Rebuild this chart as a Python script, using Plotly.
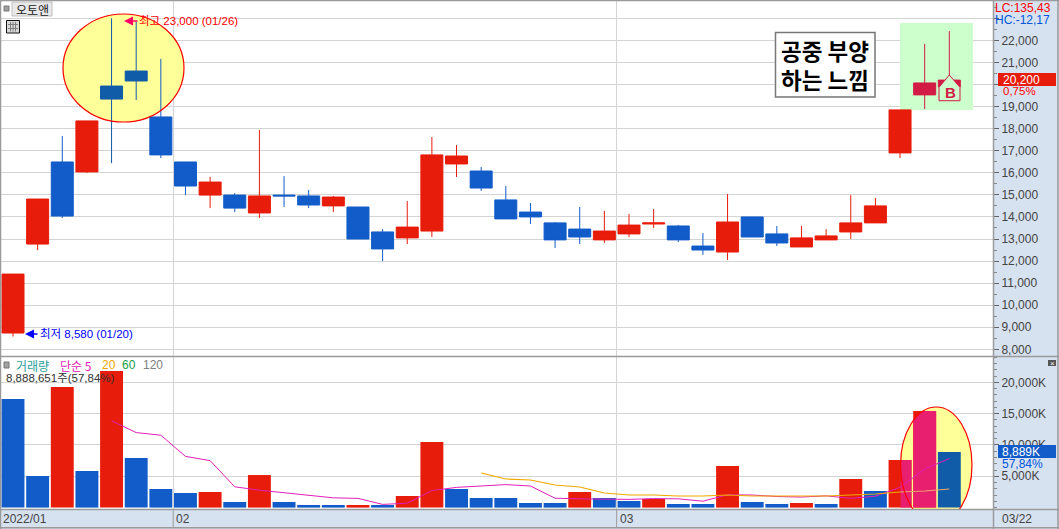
import numpy as np
import plotly.graph_objects as go

W, H = 1059, 529

# ---------- data ----------
opens = [8740, 12770, 16490, 16040, 19930, 20610, 18530, 16490, 14990, 14990, 14180, 14990, 14950,
         14500, 14450, 13320, 13050, 13360, 16400, 16080, 14770, 14220, 13730, 13450, 12960, 13230,
         13680, 13590, 12680, 12410, 14000, 13230, 12640, 12960, 13320, 13730, 16900, 19530, 19890]
closes = [11410, 14810, 14040, 18350, 19340, 20160, 16810, 15400, 15580, 14400, 14950, 14950, 14540,
          14900, 13000, 12550, 13540, 16810, 16760, 15310, 13910, 14000, 12960, 13090, 13360, 13630,
          13730, 12960, 12500, 13770, 13090, 12820, 13050, 13140, 13730, 14500, 18850, 20070, 20200]
highs = [11410, 14810, 17670, 18350, 23000, 22830, 21160, 16490, 15810, 15080, 17940, 15850, 15220,
         14950, 14450, 13450, 14720, 17620, 17260, 16260, 15400, 14630, 13770, 14450, 14270, 14130,
         14360, 13630, 13270, 15040, 14000, 13590, 13590, 13450, 14990, 14860, 18850, 21840, 22420]
lows = [8580, 12500, 13950, 15990, 16440, 19300, 16670, 14990, 14400, 14220, 13950, 14450, 14400,
        14220, 13000, 12000, 12770, 13090, 15810, 15180, 13910, 13680, 12590, 12770, 12820, 13090,
        13500, 12860, 12280, 12050, 13090, 12680, 12640, 12960, 13000, 13730, 16670, 18890, 19600]
volumes = [17340, 5050, 19260, 5850, 21810, 7920, 2970, 2330, 2490, 890, 5200, 890, 415,
           415, 415, 415, 1850, 10480, 2970, 1530, 1530, 735, 735, 2490, 1530, 1050,
           1370, 575, 575, 6640, 890, 575, 735, 575, 4570, 2650, 7600, 15430, 8889]
volume_up = [0, 0, 1, 0, 1, 0, 0, 0, 1, 0, 1, 0, 0,
             0, 1, 0, 1, 1, 0, 0, 0, 0, 0, 1, 0, 0,
             1, 0, 0, 1, 0, 0, 1, 0, 1, 0, 1, 1, 0]
ma5 = [13860, 11980, 11560, 8180, 7500, 3320, 2780, 2360, 1980, 1560, 1470, 510, 700, 2720, 3230,
       3450, 3670, 3450, 1500, 1400, 1400, 1310, 1440, 1400, 1020, 2040, 2010, 1770, 1680, 1880,
       1470, 1820, 3230, 6160, 7830]
ma20 = [5530, 4570, 4410, 3610, 3290, 2330, 2010, 2010, 1850, 1850, 2010, 1850, 1850, 1850, 1850,
        2010, 2170, 2490, 2650, 2970]
MA5_START, MA20_START = 4, 19
price_ticks = list(range(8000, 24000, 1000))
volume_ticks = [5000, 10000, 15000, 20000]
month_lines = [6.5, 24.5]

RED, BLUE, CRIMSON, DARKBLUE, PINK = "#e81c0a", "#125cc9", "#d21b45", "#105ca9", "#e81e6e"
PANEL, BORDER, GRID, TXT = "#d7e2f0", "#9a9a9a", "#d4d4d4", "#444444"
YELLOW, GREEN = "#ffff99", "#ccffcc"
FONT = "Liberation Sans, Noto Sans CJK KR, sans-serif"
KR = "Noto Sans CJK KR, sans-serif"

n = len(opens)
idx = np.arange(n)
fx = lambda px: px / W
fy = lambda py: 1 - py / H
ix = lambda px: (px - 13) / 24.64
pv = lambda py: 23829 - 45.31 * py


def candle(mask, up, down):
    m = np.array(mask)
    return go.Candlestick(
        x=idx[m], open=np.array(opens)[m], high=np.array(highs)[m], low=np.array(lows)[m],
        close=np.array(closes)[m], xaxis="x", yaxis="y", hoverinfo="skip",
        increasing=dict(line=dict(color=up, width=1), fillcolor=up),
        decreasing=dict(line=dict(color=down, width=1), fillcolor=down),
        showlegend=False)


fig = go.Figure()
in_oval = [i in (4, 5) for i in range(n)]
in_box = [i in (37, 38) for i in range(n)]
plain = [not (a or b) for a, b in zip(in_oval, in_box)]
fig.add_trace(candle(plain, RED, BLUE))
fig.add_trace(candle(in_oval, RED, DARKBLUE))
fig.add_trace(candle(in_box, CRIMSON, CRIMSON))

bar_colors = [RED if u else BLUE for u in volume_up]
bar_colors[38] = DARKBLUE
BAR_W = 0.93
fig.add_trace(go.Bar(x=idx, y=volumes, width=BAR_W, marker=dict(color=bar_colors, line_width=0),
                     xaxis="x2", yaxis="y2", hoverinfo="skip", showlegend=False))

# volume oval and the parts of the red bars that it tints
OV_X0, OV_X1, OV_Y0, OV_Y1 = 36.02, 38.92, -2475, 16066
ocx, orx = (OV_X0 + OV_X1) / 2, (OV_X1 - OV_X0) / 2
ocy, ory = (OV_Y0 + OV_Y1) / 2, (OV_Y1 - OV_Y0) / 2
for b in (36, 37):
    xs = np.linspace(max(b - BAR_W / 2, OV_X0), b + BAR_W / 2, 40)
    top = np.minimum(ocy + ory * np.sqrt(np.clip(1 - ((xs - ocx) / orx) ** 2, 0, 1)), volumes[b])
    fig.add_trace(go.Scatter(x=np.r_[xs, xs[-1], xs[0]], y=np.r_[top, 0, 0], mode="lines", fill="toself",
                             fillcolor=PINK, line=dict(width=0), xaxis="x2", yaxis="y2",
                             hoverinfo="skip", showlegend=False))

fig.add_trace(go.Scatter(x=idx[MA5_START:], y=ma5, mode="lines", line=dict(color="#e020b8", width=1),
                         xaxis="x2", yaxis="y2", hoverinfo="skip", showlegend=False))
split = 36 - MA20_START
fig.add_trace(go.Scatter(x=idx[MA20_START:36 + 1], y=ma20[:split + 1], mode="lines",
                         line=dict(color="#f0a800", width=1.2), xaxis="x2", yaxis="y2",
                         hoverinfo="skip", showlegend=False))
fig.add_trace(go.Scatter(x=idx[36:], y=ma20[split:], mode="lines",
                         line=dict(color="#e8a96e", width=1.2), xaxis="x2", yaxis="y2",
                         hoverinfo="skip", showlegend=False))

shapes = []


def rect_px(x0, y0, x1, y1, fill=None, line=None, lw=1, layer="above"):
    shapes.append(dict(type="rect", xref="paper", yref="paper", x0=fx(x0), x1=fx(x1), y0=fy(y1), y1=fy(y0),
                       fillcolor=fill or "rgba(0,0,0,0)", line=dict(color=line or "rgba(0,0,0,0)", width=lw if line else 0),
                       layer=layer))


def line_px(x0, y0, x1, y1, color=BORDER, lw=1.5):
    shapes.append(dict(type="line", xref="paper", yref="paper", x0=fx(x0), x1=fx(x1), y0=fy(y0), y1=fy(y1),
                       line=dict(color=color, width=lw), layer="above"))


# highlight regions
main_oval = dict(type="circle", xref="x", yref="y", x0=ix(63), x1=ix(184), y0=pv(122), y1=pv(14))
vol_oval = dict(type="circle", xref="x2", yref="y2", x0=OV_X0, x1=OV_X1, y0=OV_Y0, y1=OV_Y1)
for o in (main_oval, vol_oval):
    shapes.append({**o, "fillcolor": YELLOW, "line": dict(width=0), "layer": "between"})
    shapes.append({**o, "fillcolor": "rgba(0,0,0,0)", "line": dict(color="#ff0000", width=1.2), "layer": "above"})
shapes.append(dict(type="rect", xref="x", yref="y", x0=ix(900), x1=ix(973), y0=pv(110), y1=pv(23),
                   fillcolor=GREEN, line=dict(width=0), layer="between"))

# buy marker
pts = [(949.3, 75), (960, 87.3), (960, 100.7), (939, 100.7), (939, 87.3)]
shapes.append(dict(type="path", xref="x", yref="y", layer="above",
                   path="M " + " L ".join(f"{ix(a):.3f},{pv(b):.0f}" for a, b in pts) + " Z",
                   fillcolor=GREEN, line=dict(color=CRIMSON, width=1)))

# frames
line_px(0, 0.5, W, 0.5)
line_px(0.5, 0, 0.5, H)
line_px(993.5, 0, 993.5, H)
line_px(0, 356.5, W, 356.5)
line_px(0, 509.5, W, 509.5)
line_px(0, 527.8, W, 527.8)
line_px(1058, 0, 1058, H)
for m in month_lines:
    px = 13 + 24.64 * m
    line_px(px, 510, px, 527, BORDER, 1)

# little widgets
rect_px(4, 6, 9, 11, "#a0a0a0", "#777777")
rect_px(12, 2, 52, 16, "#e8e8e8", "#c0c0c0")
rect_px(6.5, 20.5, 19.5, 33, "#d8d8d8", "#111111")
for gy in (24.5, 28.5):
    line_px(8, gy, 18, gy, "#808080", 1)
for gx in (10.5, 13, 15.5):
    line_px(gx, 22, gx, 31.5, "#808080", 1)
rect_px(4, 362, 9, 368, "#a0a0a0", "#777777")
rect_px(1048, 360, 1056, 366, "#555555")
# caption box
rect_px(775.5, 32.5, 875, 97, "#ffffff", "#777777", 1.5)
# value tags
rect_px(998, 73, 1056, 86, RED)
rect_px(998, 445, 1056, 458, BLUE)

ann = []


def text_px(x, y, s, color=TXT, size=12, font=FONT, anchor="left", **kw):
    ann.append(dict(xref="paper", yref="paper", x=fx(x), y=fy(y), text=s, showarrow=False, xanchor=anchor,
                    yanchor="middle", font=dict(color=color, size=size, family=font), borderpad=0, **kw))


text_px(32, 9, "오토앤", "#222222", 12, KR, "center")
for x_tip, y_tip, x_tail, col in [(124, 21, 139, "#ff0066"), (25, 334, 39, "#0000ff")]:
    ann.append(dict(xref="paper", yref="paper", x=fx(x_tip), y=fy(y_tip), ax=x_tail - x_tip, ay=0, text="",
                    showarrow=True, arrowhead=2, arrowsize=1.2, arrowwidth=1.5, arrowcolor=col))
text_px(138, 21, "최고 23,000 (01/26)", "#ff0000", 11.5)
text_px(39, 334, "최저 8,580 (01/20)", "#0000ff", 11.5)

text_px(825, 65, "<b>공중 부양<br>하는 느낌</b>", "#000000", 22.5, KR, "center")
text_px(950, 92.5, "<b>B</b>", CRIMSON, 15, FONT, "center")

text_px(994, 8, "LC:135,43", "#ff0000", 12)
text_px(994, 20, "HC:-12,17", "#0055dd", 12)
text_px(1002, 79.5, "20,200", "#ffffff", 12)
text_px(1002, 91.5, "0,75%", "#ff0000", 11.5)
text_px(1001, 451.5, "8,889K", "#ffffff", 12)
text_px(1001, 464, "57,84%", "#0055dd", 12)
text_px(1052, 363, "×", "#ffffff", 8, FONT, "center")

text_px(15, 365, "거래량", "#2a9d9d", 12, KR)
text_px(59, 365, "단순 5", "#e020b8", 12, KR)
text_px(101, 365, "20", "#f0a800", 12)
text_px(121, 365, "60", "#18a048", 12)
text_px(142, 365, "120", "#808080", 12)
text_px(5, 378, "8,888,651주(57,84%)", "#333333", 11.5)

text_px(2, 518.5, "2022/01", TXT, 12)
text_px(174.5, 518.5, "02", TXT, 12)
text_px(618.5, 518.5, "03", TXT, 12)
text_px(1001, 518.5, "03/22", TXT, 12)

x_range = [ix(1), ix(993)]
common_x = dict(range=x_range, domain=[fx(1), fx(993)], tickmode="array", tickvals=month_lines,
                showticklabels=False, ticks="", showgrid=True, gridcolor=GRID, gridwidth=1.2, zeroline=False,
                rangeslider=dict(visible=False), fixedrange=True)
common_y = dict(side="right", showgrid=True, gridcolor=GRID, gridwidth=1.2, zeroline=False, ticks="outside",
                ticklen=5, tickcolor="#666666", tickwidth=1, tickfont=dict(family=FONT, size=12, color=TXT),
                tickmode="array", fixedrange=True)

hidden_price_labels = (20000, 23000)  # covered by the price tag / off the scale text
fig.update_layout(
    width=W, height=H, autosize=False, margin=dict(l=0, r=0, t=0, b=0, pad=0),
    paper_bgcolor=PANEL, plot_bgcolor="#ffffff", showlegend=False, boxgap=0.107, boxgroupgap=0,
    boxmode="overlay", font=dict(family=FONT, size=12, color=TXT), hovermode=False,
    xaxis=dict(**common_x, anchor="y"),
    xaxis2=dict(**common_x, anchor="y2"),
    yaxis=dict(**common_y, anchor="x", domain=[fy(356), fy(1)], range=[pv(356), pv(1)],
               tickvals=price_ticks,
               ticktext=["" if v in hidden_price_labels else f"{v:,}" for v in price_ticks],
               minor=dict(dtick=500, ticks="outside", ticklen=3, tickcolor="#888888", showgrid=False)),
    yaxis2=dict(**common_y, anchor="x2", domain=[fy(509), fy(357)], range=[-224, 24051],
                tickvals=volume_ticks, ticktext=[f"{v:,}K" for v in volume_ticks],
                minor=dict(dtick=1000, ticks="outside", ticklen=3, tickcolor="#888888", showgrid=False)),
    shapes=shapes, annotations=ann,
)

fig.write_html("out.html", config=dict(displayModeBar=False),
               post_script="document.body.style.margin='0';")
